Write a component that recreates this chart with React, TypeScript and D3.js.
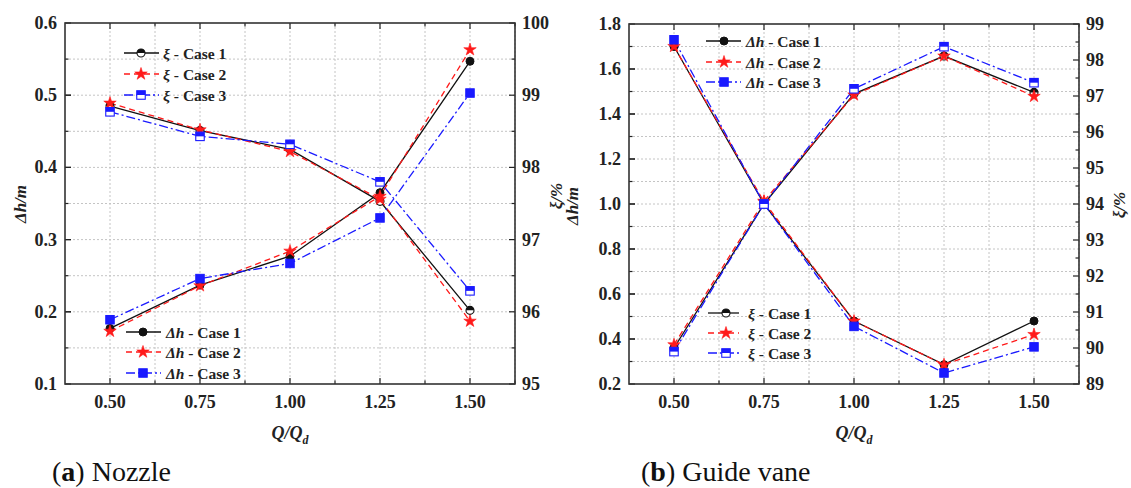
import React from "react";
import * as d3 from "d3";

// Relative flow rate Q/Qd
const flowRates = [0.5, 0.75, 1.0, 1.25, 1.5];
const xTickValues = [0.5, 0.75, 1.0, 1.25, 1.5];
const caseNames = ["Case 1", "Case 2", "Case 3"];

// (a) Nozzle: head loss Δh (m) and efficiency ξ (%)
const nozzleHead1 = [0.177, 0.237, 0.277, 0.365, 0.547];
const nozzleHead2 = [0.173, 0.236, 0.284, 0.36, 0.563];
const nozzleHead3 = [0.189, 0.246, 0.267, 0.33, 0.503];
const nozzleEff1 = [98.85, 98.51, 98.25, 97.53, 96.02];
const nozzleEff2 = [98.89, 98.52, 98.22, 97.56, 95.87];
const nozzleEff3 = [98.77, 98.43, 98.32, 97.8, 96.29];

// (b) Guide vane: head loss Δh (m) and efficiency ξ (%)
const vaneHead1 = [1.7, 1.0, 0.48, 0.286, 0.48];
const vaneHead2 = [1.7, 1.01, 0.48, 0.286, 0.42];
const vaneHead3 = [1.73, 1.0, 0.456, 0.249, 0.365];
const vaneEff1 = [90.0, 94.0, 97.06, 98.11, 97.1];
const vaneEff2 = [90.09, 94.08, 97.03, 98.11, 96.99];
const vaneEff3 = [89.9, 94.0, 97.2, 98.37, 97.37];

// Axis ticks
const nozzleHeadTicks = [0.1, 0.2, 0.3, 0.4, 0.5, 0.6];
const nozzleEffTicks = [95, 96, 97, 98, 99, 100];
const vaneHeadTicks = [0.2, 0.4, 0.6, 0.8, 1.0, 1.2, 1.4, 1.6, 1.8];
const vaneEffTicks = [89, 90, 91, 92, 93, 94, 95, 96, 97, 98, 99];

const COLORS = ["#111111", "#ff1a1a", "#1a1aff"];
const DASHES = ["none", "6,4", "9,3,2,3"];
const SHAPES = ["circle", "star", "square"] as const;
const FONT = "'Liberation Serif', 'Times New Roman', serif";

type Shape = (typeof SHAPES)[number];

function Marker({ shape, color, x, y, open }: { shape: Shape; color: string; x: number; y: number; open: boolean }) {
  if (shape === "star") {
    const d = d3.symbol(d3.symbolStar, 48)() as string;
    return <path d={d} transform={`translate(${x},${y})`} fill={color} stroke={color} strokeWidth={0.6} />;
  }
  if (shape === "circle") {
    const r = 4;
    if (!open) return <circle cx={x} cy={y} r={r} fill={color} stroke={color} strokeWidth={1} />;
    return (
      <g transform={`translate(${x},${y})`}>
        <circle r={r} fill="#fff" stroke={color} strokeWidth={1.1} />
        <path d={`M${-r},0 A${r},${r} 0 0 1 ${r},0 Z`} fill={color} />
      </g>
    );
  }
  const s = 8.5;
  if (!open) return <rect x={x - s / 2} y={y - s / 2} width={s} height={s} fill={color} stroke={color} />;
  return (
    <g transform={`translate(${x},${y})`}>
      <rect x={-s / 2} y={-s / 2} width={s} height={s} fill="#fff" stroke={color} strokeWidth={1.1} />
      <rect x={-s / 2} y={-s / 2} width={s} height={s / 2} fill={color} />
    </g>
  );
}

type Box = { left: number; right: number; top: number; bottom: number };
type LegendSpec = { kind: "head" | "eff"; rowY: number[]; x0: number; x1: number; mx: number; tx: number };

function Panel(props: {
  box: Box;
  headDomain: [number, number];
  headTicks: number[];
  headStep: number;
  effDomain: [number, number];
  effTicks: number[];
  head: number[][];
  eff: number[][];
  legends: LegendSpec[];
  leftTitles: { text: string; x: number; y: number }[];
  rightTitle: { x: number; y: number };
  caption: { x: number; letter: string; rest: string };
}) {
  const { box, headDomain, headTicks, headStep, effDomain, effTicks, head, eff, legends } = props;
  const x = d3.scaleLinear().domain([0.375, 1.625]).range([box.left, box.right]);
  const yH = d3.scaleLinear().domain(headDomain).range([box.bottom, box.top]);
  const yE = d3.scaleLinear().domain(effDomain).range([box.bottom, box.top]);

  const xGrid = d3.range(0.5, 1.626, 0.125);
  const nH = Math.round((headDomain[1] - headDomain[0]) / headStep);
  const yGrid = d3.range(1, nH).map((i) => headDomain[0] + i * headStep);
  const effMinor = d3.range(effDomain[0], effDomain[1] + 0.01, 0.5);

  const lineH = d3
    .line<number>()
    .x((_, i) => x(flowRates[i]))
    .y((v) => yH(v));
  const lineE = d3
    .line<number>()
    .x((_, i) => x(flowRates[i]))
    .y((v) => yE(v));

  const tickLen = 6;
  const minorLen = 3.5;
  const hFmt = d3.format(".1f");

  return (
    <g fontFamily={FONT}>
      {/* grid */}
      <g stroke="#c4c4c4" strokeWidth={1} strokeDasharray="2,2">
        {xGrid.map((v) => (
          <line key={"gx" + v} x1={x(v)} x2={x(v)} y1={box.top} y2={box.bottom} />
        ))}
        {yGrid.map((v) => (
          <line key={"gy" + v} x1={box.left} x2={box.right} y1={yH(v)} y2={yH(v)} />
        ))}
      </g>

      {/* ticks (inward) */}
      <g stroke="#222" strokeWidth={1.2}>
        {xGrid.map((v, i) => {
          const len = i % 2 === 0 ? tickLen : minorLen;
          return (
            <g key={"tx" + v}>
              <line x1={x(v)} x2={x(v)} y1={box.bottom} y2={box.bottom - len} />
              <line x1={x(v)} x2={x(v)} y1={box.top} y2={box.top + len} />
            </g>
          );
        })}
        {yGrid.concat(headTicks).map((v) => {
          const major = headTicks.some((t) => Math.abs(t - v) < 1e-6);
          return <line key={"th" + v} x1={box.left} x2={box.left + (major ? tickLen : minorLen)} y1={yH(v)} y2={yH(v)} />;
        })}
        {effMinor.map((v) => {
          const major = Math.abs(v - Math.round(v)) < 1e-6;
          return <line key={"te" + v} x1={box.right} x2={box.right - (major ? tickLen : minorLen)} y1={yE(v)} y2={yE(v)} />;
        })}
      </g>

      {/* series lines */}
      {[0, 1, 2].map((c) => (
        <g key={"l" + c} fill="none" stroke={COLORS[c]} strokeWidth={1.3} strokeDasharray={DASHES[c]}>
          <path d={lineH(head[c]) as string} />
          <path d={lineE(eff[c]) as string} />
        </g>
      ))}
      {/* series markers */}
      {[0, 1, 2].map((c) => (
        <g key={"m" + c}>
          {head[c].map((v, i) => (
            <Marker key={"h" + i} shape={SHAPES[c]} color={COLORS[c]} x={x(flowRates[i])} y={yH(v)} open={false} />
          ))}
          {eff[c].map((v, i) => (
            <Marker key={"e" + i} shape={SHAPES[c]} color={COLORS[c]} x={x(flowRates[i])} y={yE(v)} open={true} />
          ))}
        </g>
      ))}

      {/* frame */}
      <rect x={box.left} y={box.top} width={box.right - box.left} height={box.bottom - box.top} fill="none" stroke="#333" strokeWidth={1.6} />

      {/* tick labels */}
      <g fontWeight="bold" fontSize={18} fill="#222">
        {xTickValues.map((v) => (
          <text key={"xl" + v} x={x(v)} y={box.bottom + 24} textAnchor="middle">
            {d3.format(".2f")(v)}
          </text>
        ))}
        {headTicks.map((v) => (
          <text key={"hl" + v} x={box.left - 8} y={yH(v) + 6} textAnchor="end">
            {hFmt(v)}
          </text>
        ))}
        {effTicks.map((v) => (
          <text key={"el" + v} x={box.right + 7} y={yE(v) + 6} textAnchor="start">
            {v}
          </text>
        ))}
      </g>

      {/* axis titles */}
      <g fontWeight="bold" fontStyle="italic" fontSize={17} fill="#222">
        {props.leftTitles.map((t, i) => (
          <text key={"lt" + i} transform={`translate(${t.x},${t.y}) rotate(-90)`} textAnchor="middle">
            {t.text}
          </text>
        ))}
        <text transform={`translate(${props.rightTitle.x},${props.rightTitle.y}) rotate(-90)`} textAnchor="middle">
          ξ/%
        </text>
        <text x={(box.left + box.right) / 2} y={box.bottom + 55} textAnchor="middle" fontSize={18}>
          Q/Q<tspan fontSize={12} dy={5}>d</tspan>
        </text>
      </g>

      {/* legends */}
      {legends.map((lg, li) => (
        <g key={"lg" + li}>
          {[0, 1, 2].map((c) => (
            <g key={c}>
              <line x1={lg.x0} x2={lg.x1} y1={lg.rowY[c]} y2={lg.rowY[c]} stroke={COLORS[c]} strokeWidth={1.3} strokeDasharray={DASHES[c]} />
              <Marker shape={SHAPES[c]} color={COLORS[c]} x={lg.mx} y={lg.rowY[c]} open={lg.kind === "eff"} />
              <text x={lg.tx} y={lg.rowY[c] + 5.5} fontSize={15.5} fontWeight="bold" fill="#222">
                <tspan fontStyle="italic">{lg.kind === "head" ? "Δh" : "ξ"}</tspan>
                {" - " + caseNames[c]}
              </text>
            </g>
          ))}
        </g>
      ))}

      {/* caption */}
      <text x={props.caption.x} y={481} fontSize={28} fill="#111">
        (<tspan fontWeight="bold">{props.caption.letter}</tspan>) {props.caption.rest}
      </text>
    </g>
  );
}

export default function App() {
  return (
    <svg width={1131} height={488} style={{ position: "absolute", left: 0, top: 0, background: "#fff" }}>
      <rect width={1131} height={488} fill="#fff" />
      <Panel
        box={{ left: 65, right: 515, top: 23, bottom: 384 }}
        headDomain={[0.1, 0.6]}
        headTicks={nozzleHeadTicks}
        headStep={0.05}
        effDomain={[95, 100]}
        effTicks={nozzleEffTicks}
        head={[nozzleHead1, nozzleHead2, nozzleHead3]}
        eff={[nozzleEff1, nozzleEff2, nozzleEff3]}
        legends={[
          { kind: "eff", rowY: [53, 74, 95], x0: 124, x1: 159, mx: 141, tx: 163 },
          { kind: "head", rowY: [332, 352, 373], x0: 126, x1: 161, mx: 143, tx: 166 },
        ]}
        leftTitles={[{ text: "Δh/m", x: 26, y: 204 }]}
        rightTitle={{ x: 562, y: 196 }}
        caption={{ x: 52, letter: "a", rest: "Nozzle" }}
      />
      <Panel
        box={{ left: 629, right: 1079, top: 24, bottom: 384 }}
        headDomain={[0.2, 1.8]}
        headTicks={vaneHeadTicks}
        headStep={0.1}
        effDomain={[89, 99]}
        effTicks={vaneEffTicks}
        head={[vaneHead1, vaneHead2, vaneHead3]}
        eff={[vaneEff1, vaneEff2, vaneEff3]}
        legends={[
          { kind: "head", rowY: [41, 62, 82], x0: 706, x1: 741, mx: 724, tx: 746 },
          { kind: "eff", rowY: [313, 333, 353], x0: 708, x1: 739, mx: 726, tx: 748 },
        ]}
        leftTitles={[{ text: "Δh/m", x: 578, y: 206 }]}
        rightTitle={{ x: 1125, y: 205 }}
        caption={{ x: 641, letter: "b", rest: "Guide vane" }}
      />
    </svg>
  );
}
